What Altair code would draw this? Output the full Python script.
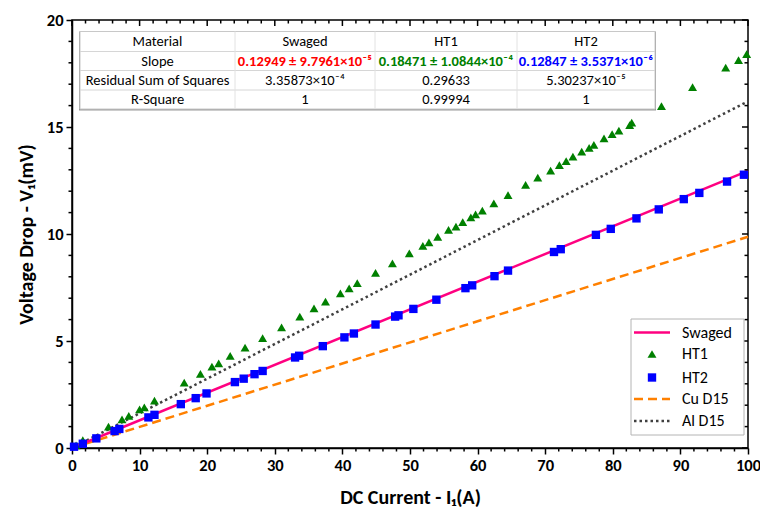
import altair as alt
import pandas as pd

# ---------------- data ----------------
ht1_x = [0.6, 1.6, 5.4, 7.4, 8.4, 10.0, 10.7, 12.2, 16.6, 19.0, 20.7, 21.7, 23.4, 25.6, 28.2,
         31.0, 33.7, 35.8, 37.5, 39.7, 41.0, 42.2, 44.9, 47.4, 49.9, 51.9, 52.8, 54.1, 55.7,
         56.8, 57.8, 59.0, 59.7, 60.7, 62.4, 64.5, 67.1, 68.9, 70.8, 72.1, 73.1, 74.1, 75.4,
         76.5, 77.2, 78.7, 79.9, 80.9, 82.5, 82.8, 87.2, 91.8, 96.7, 98.6, 99.8]
ht1_y = [0.12, 0.37, 1.00, 1.34, 1.50, 1.81, 1.90, 2.21, 3.05, 3.46, 3.80, 3.96, 4.30, 4.69, 5.13,
         5.64, 6.14, 6.53, 6.84, 7.23, 7.46, 7.70, 8.18, 8.63, 9.10, 9.44, 9.61, 9.87, 10.19,
         10.34, 10.55, 10.78, 10.92, 11.09, 11.43, 11.82, 12.29, 12.63, 12.96, 13.22, 13.41, 13.61, 13.85,
         14.03, 14.16, 14.47, 14.67, 14.83, 15.09, 15.20, 15.98, 16.86, 17.77, 18.13, 18.40]

ht2_x = [0.3, 1.6, 3.6, 6.3, 7.0, 11.3, 12.2, 16.1, 18.3, 19.9, 24.1, 25.4, 27.0, 28.2, 33.0,
         33.6, 37.1, 40.3, 41.7, 44.9, 47.8, 48.3, 50.5, 53.9, 58.2, 59.2, 62.5, 64.5, 71.3,
         72.3, 77.5, 79.7, 83.5, 86.8, 90.5, 92.8, 96.9, 99.4]
ht2_y = [0.06, 0.20, 0.45, 0.79, 0.89, 1.43, 1.55, 2.05, 2.33, 2.55, 3.08, 3.24, 3.45, 3.60, 4.23,
         4.31, 4.76, 5.17, 5.35, 5.77, 6.14, 6.20, 6.50, 6.93, 7.47, 7.60, 8.03, 8.29, 9.16,
         9.29, 9.96, 10.24, 10.73, 11.15, 11.63, 11.92, 12.45, 12.77]

swaged_x = [0, 100]
swaged_y = [0, 12.95]
cu_x = [0, 100]
cu_y = [0, 9.87]
al_x = [0, 100]
al_y = [0, 16.2]

x_major = [0, 10, 20, 30, 40, 50, 60, 70, 80, 90, 100]
x_minor = [v for v in range(0, 101, 2) if v % 10 != 0]
y_major = [0, 5, 10, 15, 20]
y_minor = [v for v in range(0, 21) if v % 5 != 0]

table_header = ["Material", "Swaged", "HT1", "HT2"]
table_slope = ["Slope", "0.12949 ± 9.7961×10⁻⁵", "0.18471 ± 1.0844×10⁻⁴", "0.12847 ± 3.5371×10⁻⁶"]
table_rss = ["Residual Sum of Squares", "3.35873×10⁻⁴", "0.29633", "5.30237×10⁻⁵"]
table_r2 = ["R-Square", "1", "0.99994", "1"]

legend_labels = ["Swaged", "HT1", "HT2", "Cu D15", "Al D15"]

# ---------------- style ----------------
W, H = 676, 428
PL = 64
FONT = "Carlito, 'Liberation Sans Narrow', 'Liberation Sans', sans-serif"
TFONT = "Carlito, 'Liberation Sans', sans-serif"
C_SW = "#FF0080"
C_HT1 = "#008000"
C_HT2 = "#0000FF"
C_CU = "#FF8000"
C_AL = "#404040"

xs = alt.Scale(domain=[0, 100], nice=False, zero=False)
ys = alt.Scale(domain=[0, 20], nice=False, zero=False)

def line_df(x, y):
    return pd.DataFrame({"x": x, "y": y})

X_AX = alt.Axis(values=x_major, title="DC Current - I₁(A)", labelFont=FONT, labelFontSize=16.5,
                labelFontWeight="bold", labelColor="black", titleFont=FONT, titleFontSize=20,
                titleFontWeight="bold", titleColor="black", tickSize=6, tickWidth=1.5,
                tickColor="black", domainColor="black", domainWidth=1.5, grid=False,
                labelPadding=3, titlePadding=14, labelFlush=False)
Y_AX = alt.Axis(values=y_major, title="Voltage Drop - V₁(mV)", labelFont=FONT, labelFontSize=16.5,
                labelFontWeight="bold", labelColor="black", titleFont=FONT, titleFontSize=20,
                titleFontWeight="bold", titleColor="black", tickSize=6, tickWidth=1.5,
                tickColor="black", domainColor="black", domainWidth=1.5, grid=False,
                labelPadding=3, titlePadding=10, labelFlush=False)

cu = alt.Chart(line_df(cu_x, cu_y)).mark_line(color=C_CU, strokeWidth=2.5, strokeDash=[9, 5]).encode(
    x=alt.X("x:Q", scale=xs, axis=X_AX), y=alt.Y("y:Q", scale=ys, axis=Y_AX))
al = alt.Chart(line_df(al_x, al_y)).mark_line(color=C_AL, strokeWidth=2.5, strokeDash=[2.5, 3]).encode(
    x=alt.X("x:Q", scale=xs), y=alt.Y("y:Q", scale=ys))
sw = alt.Chart(line_df(swaged_x, swaged_y)).mark_line(color=C_SW, strokeWidth=2.5).encode(
    x=alt.X("x:Q", scale=xs), y=alt.Y("y:Q", scale=ys))
ht1 = alt.Chart(line_df(ht1_x, ht1_y)).mark_point(shape="triangle-up", filled=True, color=C_HT1,
                                                   opacity=1, size=80).encode(
    x=alt.X("x:Q", scale=xs), y=alt.Y("y:Q", scale=ys))
ht2 = alt.Chart(line_df(ht2_x, ht2_y)).mark_point(shape="square", filled=True, color=C_HT2,
                                                  opacity=1, size=70).encode(
    x=alt.X("x:Q", scale=xs), y=alt.Y("y:Q", scale=ys))

# ---------- extra ticks (minor + mirrored) ----------
def vticks(vals, y0, y1, w=1.5):
    return alt.Chart(pd.DataFrame({"v": vals})).mark_rule(color="black", strokeWidth=w).encode(
        x=alt.X("v:Q", scale=xs), y=alt.value(y0), y2=alt.value(y1))

def hticks(vals, x0, x1, w=1.5):
    return alt.Chart(pd.DataFrame({"v": vals})).mark_rule(color="black", strokeWidth=w).encode(
        y=alt.Y("v:Q", scale=ys), x=alt.value(x0), x2=alt.value(x1))

ticks = [
    vticks(x_minor, H, H + 3.5),
    vticks(x_major, 0, 6), vticks(x_minor, 0, 3.5),
    hticks(y_minor, 0, -3.5),
    hticks(y_major, W, W - 6), hticks(y_minor, W, W - 3.5),
]

# ---------- table ----------
col_edges = [8, 163, 303, 445, 583]
row_edges = [11.5, 31.5, 50.5, 70, 89]
rows = [table_header, table_slope, table_rss, table_r2]
slope_colors = ["black", "#FF0000", C_HT1, C_HT2]
cells = []
for r, row in enumerate(rows):
    for c, txt in enumerate(row):
        bold = (r == 1 and c > 0)
        cells.append({"t": txt, "px": (col_edges[c] + col_edges[c + 1]) / 2,
                      "py": (row_edges[r] + row_edges[r + 1]) / 2 + 0.5,
                      "col": slope_colors[c] if bold else "black",
                      "w": "bold" if bold else "normal"})
cells_df = pd.DataFrame(cells)

shadow = alt.Chart(pd.DataFrame({"a": [0]})).mark_rect(fill="#9A9A9A").encode(
    x=alt.value(col_edges[0] - 1), x2=alt.value(col_edges[-1] + 1),
    y=alt.value(row_edges[0]), y2=alt.value(row_edges[-1] + 1.5))
tbox = alt.Chart(pd.DataFrame({"a": [0]})).mark_rect(fill="white", stroke="#C8C8C8", strokeWidth=1).encode(
    x=alt.value(col_edges[0]), x2=alt.value(col_edges[-1]),
    y=alt.value(row_edges[0]), y2=alt.value(row_edges[-1]))
hl = alt.Chart(pd.DataFrame({"p": row_edges[1:-1]})).mark_rule(color="#D6D6D6", strokeWidth=1).encode(
    y=alt.Y("p:Q", scale=None), x=alt.value(col_edges[0]), x2=alt.value(col_edges[-1]))
vl = alt.Chart(pd.DataFrame({"p": col_edges[1:-1]})).mark_rule(color="#E2E2E2", strokeWidth=1).encode(
    x=alt.X("p:Q", scale=None), y=alt.value(row_edges[0]), y2=alt.value(row_edges[-1]))
ttxt_n = alt.Chart(cells_df[cells_df.w == "normal"]).mark_text(font=TFONT, fontSize=14.5, baseline="middle",
                                                              align="center", color="black").encode(
    x=alt.X("px:Q", scale=None), y=alt.Y("py:Q", scale=None), text="t:N")
ttxt_b = alt.Chart(cells_df[cells_df.w == "bold"]).mark_text(font=TFONT, fontSize=14.5, baseline="middle",
                                                            align="center", fontWeight="bold").encode(
    x=alt.X("px:Q", scale=None), y=alt.Y("py:Q", scale=None), text="t:N",
    color=alt.Color("col:N", scale=None))

# ---------- legend ----------
LX1 = W - 4
LX0 = LX1 - 113
LY0, LY1 = 299, 415
leg_y = [312.5, 334, 357.5, 379, 401]
sym_c = LX0 + 21
lbox = alt.Chart(pd.DataFrame({"a": [0]})).mark_rect(fill="white", stroke="#B4B4B4", strokeWidth=1).encode(
    x=alt.value(LX0), x2=alt.value(LX1), y=alt.value(LY0), y2=alt.value(LY1))
leg_sw = alt.Chart(pd.DataFrame({"a": [0]})).mark_rule(color=C_SW, strokeWidth=2.5).encode(
    x=alt.value(LX0 + 3), x2=alt.value(LX0 + 39), y=alt.value(leg_y[0]))
leg_cu = alt.Chart(pd.DataFrame({"a": [0]})).mark_rule(color=C_CU, strokeWidth=2.5, strokeDash=[9, 5]).encode(
    x=alt.value(LX0 + 3), x2=alt.value(LX0 + 39), y=alt.value(leg_y[3]))
leg_al = alt.Chart(pd.DataFrame({"a": [0]})).mark_rule(color=C_AL, strokeWidth=2.5, strokeDash=[2.5, 3]).encode(
    x=alt.value(LX0 + 3), x2=alt.value(LX0 + 39), y=alt.value(leg_y[4]))
leg_t = alt.Chart(pd.DataFrame({"a": [0]})).mark_point(shape="triangle-up", filled=True, color=C_HT1,
                                                       opacity=1, size=80).encode(
    x=alt.value(sym_c), y=alt.value(leg_y[1]))
leg_s = alt.Chart(pd.DataFrame({"a": [0]})).mark_point(shape="square", filled=True, color=C_HT2,
                                                       opacity=1, size=70).encode(
    x=alt.value(sym_c), y=alt.value(leg_y[2]))
leg_txt = alt.Chart(pd.DataFrame({"t": legend_labels, "py": leg_y})).mark_text(
    font=TFONT, fontSize=16, align="left", baseline="middle", color="black").encode(
    x=alt.value(LX0 + 51), y=alt.Y("py:Q", scale=None), text="t:N")

chart = alt.layer(
    cu, al, sw, ht1, ht2, *ticks,
    shadow, tbox, hl, vl, ttxt_n, ttxt_b,
    lbox, leg_sw, leg_cu, leg_al, leg_t, leg_s, leg_txt,
).properties(
    width=W, height=H,
    autosize=alt.AutoSizeParams(type="none"),
    padding={"left": PL, "top": 12, "right": 12, "bottom": 62},
    background="white",
).configure_view(stroke="black", strokeWidth=1.5)

chart.save("out.html", embed_options={"renderer": "svg", "actions": False})
